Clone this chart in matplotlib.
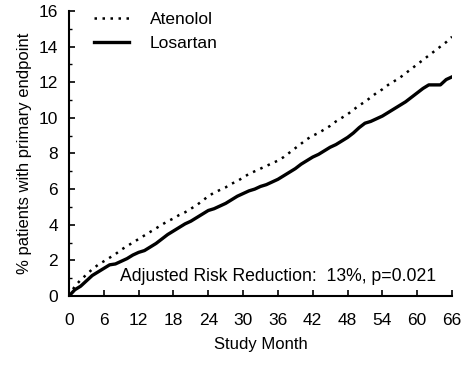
import matplotlib
matplotlib.use("Agg")
import matplotlib.pyplot as plt
import numpy as np

plt.rcParams['font.family'] = ['Liberation Sans', 'DejaVu Sans']

months = list(range(0, 67))
atenolol = [0.0, 0.55, 0.9, 1.2, 1.5, 1.75, 1.95, 2.15, 2.35, 2.6, 2.8, 3.0, 3.2, 3.4, 3.6,
            3.8, 4.0, 4.2, 4.35, 4.55, 4.7, 4.9, 5.1, 5.35, 5.6, 5.8, 5.95, 6.1, 6.3, 6.45,
            6.65, 6.85, 7.0, 7.15, 7.3, 7.45, 7.6, 7.8, 8.05, 8.3, 8.55, 8.8, 9.0, 9.15,
            9.35, 9.55, 9.8, 10.0, 10.2, 10.45, 10.7, 10.9, 11.15, 11.4, 11.6, 11.85, 12.05,
            12.25, 12.5, 12.75, 13.0, 13.25, 13.5, 13.75, 14.0, 14.25, 14.55]
losartan = [0.0, 0.35, 0.55, 0.85, 1.15, 1.35, 1.55, 1.75, 1.8, 1.95, 2.1, 2.3, 2.45, 2.55,
            2.75, 2.95, 3.2, 3.45, 3.65, 3.85, 4.05, 4.2, 4.4, 4.6, 4.8, 4.9, 5.05, 5.2, 5.4,
            5.6, 5.75, 5.9, 6.0, 6.15, 6.25, 6.4, 6.55, 6.75, 6.95, 7.15, 7.4, 7.6, 7.8, 7.95,
            8.15, 8.35, 8.5, 8.7, 8.9, 9.15, 9.45, 9.7, 9.8, 9.95, 10.1, 10.3, 10.5, 10.7,
            10.9, 11.15, 11.4, 11.65, 11.85, 11.85, 11.85, 12.15, 12.3]
xticks = list(range(0, 67, 6))
yticks = list(range(0, 17, 2))
annotation = "Adjusted Risk Reduction:  13%, p=0.021"

fig = plt.figure(figsize=(4.73, 3.65), dpi=100)
ax = fig.add_axes([0.1459, 0.189, 0.8097, 0.781])

ax.plot(months, atenolol, color='black', lw=1.8, linestyle=(0, (1, 2.2)), label='Atenolol')
ax.plot(months, losartan, color='black', lw=2.4, label='Losartan')

ax.set_xlim(0, 66)
ax.set_ylim(0, 16)
ax.set_xticks(xticks)
ax.set_yticks(yticks)
ax.set_yticks(list(range(1, 16, 2)), minor=True)
for s in ['top', 'right']:
    ax.spines[s].set_visible(False)
for s in ['left', 'bottom']:
    ax.spines[s].set_linewidth(1.5)
ax.tick_params(axis='x', direction='in', length=4, width=1.2, pad=12, labelsize=12.5)
ax.tick_params(axis='y', which='major', direction='in', length=4, width=1.2, pad=8, labelsize=12.5)
ax.tick_params(axis='y', which='minor', direction='in', length=2.5, width=1.0)
ax.tick_params(axis='x', which='minor', bottom=False)

ax.set_xlabel('Study Month', fontsize=12, labelpad=7)
ax.set_ylabel('% patients with primary endpoint', fontsize=12, labelpad=5)

ax.text(36, 1.07, annotation, fontsize=12.7, ha='center', va='center')

ax.legend(loc='upper left', bbox_to_anchor=(0.025, 1.05), frameon=False, fontsize=12.5,
          handlelength=2.0, handletextpad=1.2, labelspacing=0.5)

fig.savefig('out.png', dpi=100)
